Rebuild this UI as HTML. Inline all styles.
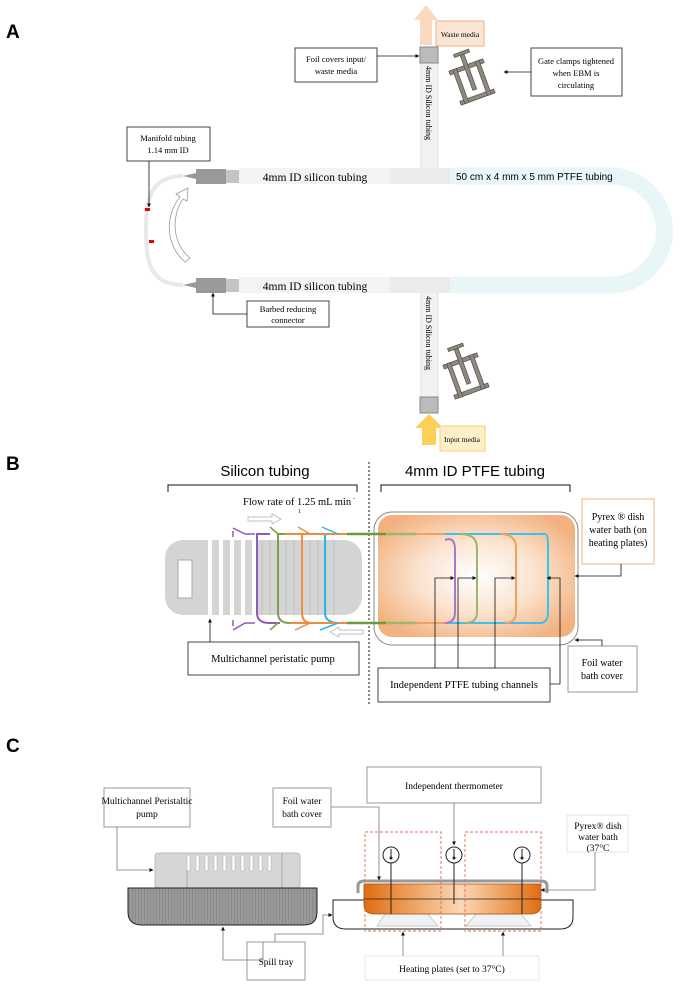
<!DOCTYPE html>
<html><head><meta charset="utf-8"><style>
html,body{margin:0;padding:0;background:#fff;}
svg{display:block;font-family:"Liberation Serif",serif;}
.s{font-family:"Liberation Sans",sans-serif;}
</style></head><body>
<svg width="685" height="988" viewBox="0 0 685 988" xmlns="http://www.w3.org/2000/svg">
<defs>
<marker id="ar" viewBox="0 0 10 10" refX="9" refY="5" markerWidth="5" markerHeight="5" orient="auto"><path d="M0,0L10,5L0,10z" fill="#111"/></marker>
<radialGradient id="og" cx="0.5" cy="0.5" r="0.6"><stop offset="0" stop-color="#fff"/><stop offset="0.5" stop-color="#fbe3cf"/><stop offset="1" stop-color="#f2b17e"/></radialGradient>
<linearGradient id="dc" x1="0" x2="1"><stop offset="0" stop-color="#e06d10"/><stop offset="0.55" stop-color="#fbd7b5"/><stop offset="1" stop-color="#e06d10"/></linearGradient>
<pattern id="hatch" width="3" height="3" patternUnits="userSpaceOnUse"><rect width="3" height="3" fill="#9a9a9a"/><path d="M0,0V3" stroke="#7a7a7a" stroke-width="1"/></pattern>
</defs>

<!-- PANEL A -->
<text x="6" y="38" class="s" font-size="19" font-weight="bold">A</text>
<path d="M420,45V20H414L426,5L438,20H432V45z" fill="#fbd9be"/>
<rect x="436" y="21" width="48" height="25" fill="#fbe6d5" stroke="#f4b27e"/>
<text x="460" y="37" font-size="7.5" text-anchor="middle">Waste media</text>
<rect x="421" y="60" width="17" height="112" fill="#f2f2f2" stroke="#ddd"/>
<rect x="421" y="290" width="17" height="112" fill="#f2f2f2" stroke="#ddd"/>
<text transform="translate(426,66) rotate(90)" font-size="8">4mm ID Silicon tubing</text>
<text transform="translate(426,296) rotate(90)" font-size="8">4mm ID Silicon tubing</text>
<rect x="420" y="47" width="18" height="16" fill="#bbb" stroke="#888"/>
<rect x="420" y="397" width="18" height="16" fill="#bbb" stroke="#888"/>
<path d="M422,445V428H415L429,414L443,428H436V445z" fill="#fcd056"/>
<rect x="440" y="426" width="45" height="25" fill="#fdf0c8" stroke="#f7cf6f"/>
<text x="462" y="442" font-size="7.5" text-anchor="middle">Input media</text>
<path d="M452,176H610A54.5,54.5 0 0 1 610,285H452" fill="none" stroke="#e9f6f7" stroke-width="17"/>
<rect x="239" y="168" width="213" height="16" fill="#f3f3f3"/>
<rect x="239" y="277" width="213" height="16" fill="#f3f3f3"/>
<rect x="390" y="168" width="60" height="16" fill="#ebebeb"/>
<rect x="390" y="277" width="60" height="16" fill="#ebebeb"/>
<text x="315" y="181" font-size="11.5" text-anchor="middle">4mm ID silicon tubing</text>
<text x="315" y="290" font-size="11.5" text-anchor="middle">4mm ID silicon tubing</text>
<text x="456" y="180" class="s" font-size="10">50 cm x 4 mm x 5 mm PTFE tubing</text>
<g fill="#999"><path d="M183,176L196,173V179z"/><rect x="196" y="169" width="30" height="15"/><rect x="226" y="170" width="13" height="13" fill="#c4c4c4"/>
<path d="M183,285L196,282V288z"/><rect x="196" y="278" width="30" height="15"/><rect x="226" y="279" width="13" height="13" fill="#c4c4c4"/></g>
<path d="M183,176C150,176 146,200 146,230C146,262 150,285 183,285" fill="none" stroke="#e8e8e8" stroke-width="4"/>
<rect x="145" y="208" width="5" height="3" fill="#e00"/><rect x="149" y="240" width="5" height="3" fill="#e00"/>
<path d="M185,262C165,245 165,215 180,197L176,194L188,188L187,201L183,199C171,216 172,243 190,258z" fill="#fff" stroke="#999" stroke-width="0.8"/>
<g fill="#8f8a80" stroke="#5a564f" stroke-width="0.8">
<g transform="translate(472,82) rotate(-20)"><rect x="-18" y="-18" width="36" height="4"/><rect x="-18" y="14" width="36" height="4"/><rect x="-14" y="-18" width="4" height="36"/><rect x="10" y="-18" width="4" height="36"/><rect x="-2" y="-30" width="4" height="38"/><rect x="-8" y="-32" width="16" height="3"/></g>
<g transform="translate(466,376) rotate(-20)"><rect x="-18" y="-18" width="36" height="4"/><rect x="-18" y="14" width="36" height="4"/><rect x="-14" y="-18" width="4" height="36"/><rect x="10" y="-18" width="4" height="36"/><rect x="-2" y="-30" width="4" height="38"/><rect x="-8" y="-32" width="16" height="3"/></g>
</g>
<g fill="#fff" stroke="#444" stroke-width="1">
<rect x="295" y="48" width="82" height="34"/><rect x="531" y="48" width="91" height="48"/>
<rect x="127" y="127" width="83" height="34"/><rect x="247" y="301" width="82" height="26"/></g>
<g font-size="8.5" text-anchor="middle">
<text x="336" y="62">Foil covers input/</text><text x="336" y="74">waste media</text>
<text x="576" y="64">Gate clamps tightened</text><text x="576" y="76">when EBM is</text><text x="576" y="88">circulating</text>
<text x="168" y="141">Manifold tubing</text><text x="168" y="153">1.14 mm ID</text>
<text x="288" y="312">Barbed reducing</text><text x="288" y="323">connector</text></g>
<g stroke="#111" stroke-width="0.8" fill="none" marker-end="url(#ar)">
<path d="M377,56H419"/><path d="M531,72H504"/><path d="M149,161V207"/><path d="M247,314H213V293"/></g>

<!-- PANEL B -->
<text x="6" y="470" class="s" font-size="19" font-weight="bold">B</text>
<text x="265" y="476" class="s" font-size="15" text-anchor="middle">Silicon tubing</text>
<text x="475" y="476" class="s" font-size="15" text-anchor="middle">4mm ID PTFE tubing</text>
<path d="M168,492V485H357V492M381,492V485H570V492" fill="none" stroke="#111" stroke-width="1"/>
<path d="M369,462V705" stroke="#111" stroke-dasharray="2,2"/>
<text x="243" y="505" font-size="10.5">Flow rate of 1.25 mL min</text><text x="353" y="500" font-size="6">-</text><text x="298" y="513" font-size="6">1</text>
<path d="M248,517H272V514L281,519L272,524V521H248z" fill="#fff" stroke="#aaa" stroke-width="0.7"/>
<path d="M363,630H339V627L330,632L339,637V634H363z" fill="#fff" stroke="#aaa" stroke-width="0.7"/>
<rect x="165" y="540" width="197" height="75" rx="18" fill="#d4d4d4"/>
<rect x="178" y="560" width="14" height="38" fill="#fff" stroke="#aaa"/>
<g fill="#fff"><rect x="208" y="540" width="4" height="75"/><rect x="219" y="540" width="4" height="75"/><rect x="230" y="540" width="4" height="75"/><rect x="241" y="540" width="4" height="75"/><rect x="252" y="540" width="4" height="75"/></g>
<g stroke="#bbb" stroke-width="0.8"><path d="M262,540V615M270,540V615M278,540V615M286,540V615M294,540V615M302,540V615M310,540V615M318,540V615M326,540V615M334,540V615"/></g>
<rect x="374" y="512" width="204" height="133" rx="18" fill="#fff" stroke="#888"/>
<rect x="378" y="515" width="197" height="122" rx="14" fill="url(#og)"/>
<g fill="none" stroke-width="2">
<path d="M347,534H386M347,623H386" stroke="#6a9a3a" stroke-width="2.5"/>
<path d="M386,534H416M386,623H416" stroke="#9db771" stroke-width="2.5"/>
<path d="M416,534H445M416,623H445" stroke="#f0a060"/>
<path d="M270,534H257Q257,534 257,544V613Q257,623 270,623H280" stroke="#8e5bb5"/>
<path d="M290,534H278V613Q278,623 290,623H302" stroke="#7ea04c"/>
<path d="M312,534H302V613Q302,623 312,623H326" stroke="#f08a3c"/>
<path d="M340,534H325V613Q325,623 340,623H347" stroke="#26b8ec"/>
<path d="M285,534H347M290,623H347" stroke="#f08a3c"/>
<path d="M445,534H545Q548,534 548,545V612Q548,623 540,623H445" stroke="#3cc0ee"/>
<path d="M445,540Q455,536 455,550V612Q455,623 445,623" stroke="#a777c8"/>
<path d="M460,534Q477,534 477,548V612Q477,623 465,623" stroke="#9db771"/>
<path d="M500,534Q516,534 516,548V612Q516,623 505,623" stroke="#f0a060"/>
<path d="M233,528L245,534L255,534M233,630L245,623L255,623" stroke="#8e5bb5" stroke-width="1.5"/>
<path d="M233,531V537M233,620V626" stroke="#8e5bb5" stroke-width="1.5"/>
<path d="M270,527L278,534M270,630L278,623" stroke="#7ea04c" stroke-width="1.5"/>
<path d="M298,527L310,534M295,630L310,623" stroke="#f08a3c" stroke-width="1.5"/>
<path d="M322,527L338,534M320,630L338,623" stroke="#26b8ec" stroke-width="1.5"/>
</g>
<rect x="582" y="499" width="72" height="65" fill="#fff" stroke="#f4b27e"/>
<g font-size="10" text-anchor="middle"><text x="618" y="520">Pyrex ® dish</text><text x="618" y="533">water bath (on</text><text x="618" y="546">heating plates)</text></g>
<rect x="568" y="646" width="69" height="46" fill="#fff" stroke="#999"/>
<g font-size="10" text-anchor="middle"><text x="602" y="666">Foil water</text><text x="602" y="679">bath cover</text></g>
<rect x="188" y="642" width="171" height="33" fill="#fff" stroke="#444"/>
<text x="273" y="662" font-size="10.5" text-anchor="middle">Multichannel peristatic pump</text>
<rect x="378" y="668" width="172" height="34" fill="#fff" stroke="#444"/>
<text x="464" y="688" font-size="10.5" text-anchor="middle">Independent PTFE tubing channels</text>
<g stroke="#111" stroke-width="0.8" fill="none" marker-end="url(#ar)">
<path d="M210,642V619"/><path d="M435,668V578H454"/><path d="M458,668V578H476"/><path d="M495,668V578H515"/><path d="M550,684H560V578H547"/>
<path d="M621,564V576H575"/><path d="M602,646V640H575"/></g>

<!-- PANEL C -->
<text x="6" y="752" class="s" font-size="19" font-weight="bold">C</text>
<rect x="104" y="788" width="86" height="39" fill="#fff" stroke="#999"/>
<g font-size="9.5" text-anchor="middle"><text x="147" y="804">Multichannel Peristaltic</text><text x="147" y="817">pump</text></g>
<rect x="155" y="853" width="145" height="35" rx="3" fill="#d6d6d6" stroke="#bbb"/>
<path d="M187,870V888M282,853V888" stroke="#aaa"/>
<g fill="#fff" stroke="#aaa" stroke-width="0.5"><rect x="187" y="855" width="3" height="16"/><rect x="196" y="855" width="3" height="16"/><rect x="205" y="855" width="3" height="16"/><rect x="214" y="855" width="3" height="16"/><rect x="223" y="855" width="3" height="16"/><rect x="232" y="855" width="3" height="16"/><rect x="241" y="855" width="3" height="16"/><rect x="250" y="855" width="3" height="16"/><rect x="259" y="855" width="3" height="16"/><rect x="268" y="855" width="3" height="16"/></g>
<path d="M128,888H317V912Q317,925 304,925H142Q128,925 128,912z" fill="url(#hatch)" stroke="#222"/>
<rect x="247" y="942" width="58" height="38" fill="#fff" stroke="#999"/>
<text x="276" y="965" font-size="9.5" text-anchor="middle">Spill tray</text>
<rect x="273" y="788" width="58" height="39" fill="#fff" stroke="#999"/>
<g font-size="9.5" text-anchor="middle"><text x="302" y="804">Foil water</text><text x="302" y="817">bath cover</text></g>
<rect x="367" y="767" width="174" height="36" fill="#fff" stroke="#999"/>
<text x="454" y="789" font-size="9.5" text-anchor="middle">Independent thermometer</text>
<rect x="567" y="815" width="61" height="37" fill="#fff" stroke="#f4e0d0"/>
<g font-size="9.5" text-anchor="middle"><text x="598" y="829">Pyrex® dish</text><text x="598" y="840">water bath</text><text x="598" y="851">(37°C</text></g>
<path d="M333,900H573V917Q573,929 560,929H346Q333,929 333,917z" fill="#fff" stroke="#222"/>
<path d="M377,926L385,914H428L438,926z" fill="#eef2f4" stroke="#bbb" stroke-width="0.7"/>
<path d="M466,926L476,914H521L531,926z" fill="#eef2f4" stroke="#bbb" stroke-width="0.7"/>
<path d="M364,884H541V905Q541,914 530,914H375Q364,914 364,905z" fill="url(#dc)" stroke="#a04d08" stroke-width="0.8"/>
<path d="M358,893V886Q358,881 365,881H541Q547,881 547,886V893" fill="none" stroke="#999" stroke-width="3"/>
<path d="M364,899H541" stroke="#222" stroke-width="0.8"/>
<g stroke="#222" stroke-width="1" fill="#fff">
<path d="M391,863V914M522,863V914M454,863V904"/>
<circle cx="391" cy="855" r="8"/><circle cx="454" cy="855" r="8"/><circle cx="522" cy="855" r="8"/>
<path d="M391,849V857M454,849V857M522,849V857"/></g>
<g fill="#222"><circle cx="391" cy="858" r="1.5"/><circle cx="454" cy="858" r="1.5"/><circle cx="522" cy="858" r="1.5"/></g>
<g fill="none" stroke="#e06a5a" stroke-dasharray="3,2" stroke-width="0.9"><rect x="365" y="832" width="76" height="99"/><rect x="465" y="832" width="76" height="99"/></g>
<rect x="365" y="956" width="174" height="24" fill="#fff" stroke="#f2c4c4" stroke-dasharray="1.5,1.5"/>
<text x="452" y="972" font-size="9.5" text-anchor="middle">Heating plates (set to 37°C)</text>
<g stroke="#777" stroke-width="0.8" fill="none" marker-end="url(#ar)">
<path d="M117,827V870H153"/><path d="M263,942V960H223V927"/><path d="M275,942V934H323V915H332"/>
<path d="M331,807H379V880"/><path d="M454,803V845"/><path d="M595,852V890H541"/>
<path d="M403,956V932"/><path d="M503,956V932"/></g>
</svg>
</body></html>
